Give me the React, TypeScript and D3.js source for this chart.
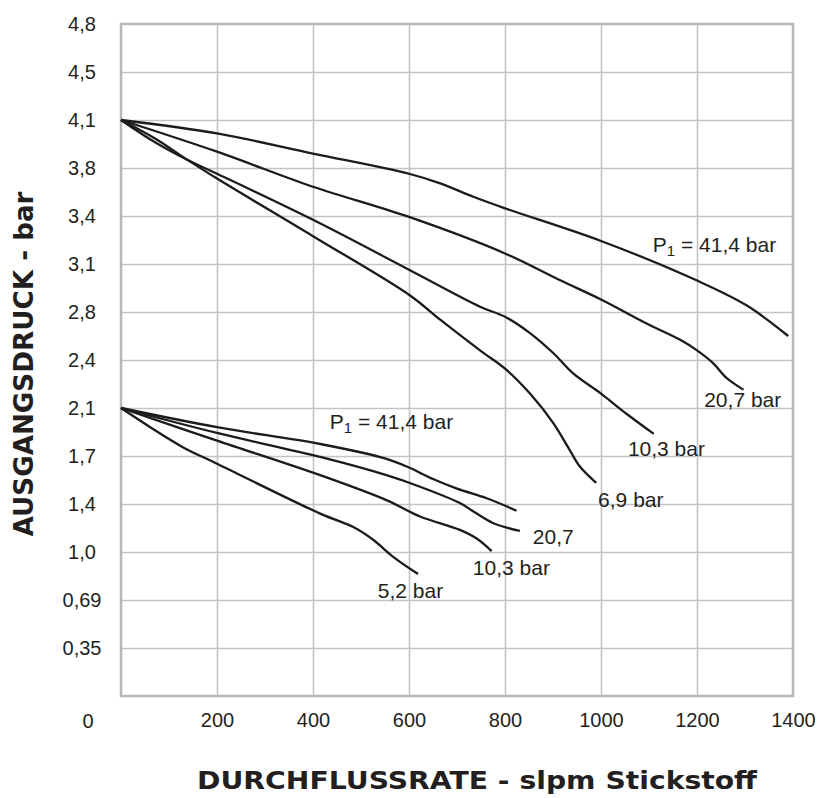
import React, { useEffect, useRef } from "react";
import * as d3 from "d3";

// flow in slpm, outlet pressure read on the (psi-linear) grid: 0..70 psi
const flowTicks = [200, 400, 600, 800, 1000, 1200, 1400];
const psiTicks = [5, 10, 15, 20, 25, 30, 35, 40, 45, 50, 55, 60, 65, 70];
const barLabels = ["0,35", "0,69", "1,0", "1,4", "1,7", "2,1", "2,4", "2,8", "3,1", "3,4", "3,8", "4,1", "4,5", "4,8"];

// upper set, set point 4,1 bar
const up414 = [[0, 60], [200, 58.6], [400, 56.5], [600, 54.4], [665, 53.4], [734, 52.0], [800, 50.8], [1000, 47.4], [1199, 43.3], [1303, 40.7], [1390, 37.5]];
const up207 = [[0, 60], [200, 56.7], [400, 53.05], [600, 49.9], [800, 46.1], [915, 43.3], [1000, 41.3], [1095, 38.8], [1165, 37.1], [1200, 36.0], [1234, 34.65], [1262, 33.1], [1297, 31.9]];
const up103 = [[0, 60], [70, 57.7], [140, 55.8], [200, 54.4], [400, 49.6], [600, 44.4], [748, 40.55], [800, 39.5], [852, 37.8], [901, 35.7], [942, 33.6], [1000, 31.5], [1053, 29.4], [1110, 27.3]];
const up69 = [[0, 60], [70, 58.1], [140, 55.8], [200, 53.9], [400, 47.9], [600, 41.8], [665, 39.2], [748, 36.0], [800, 34.1], [852, 31.5], [901, 28.4], [935, 25.6], [956, 23.9], [990, 22.2]];

// lower set, set point 2,1 bar
const lo414 = [[0, 30], [200, 28.0], [415, 26.25], [553, 24.7], [600, 23.8], [650, 22.6], [700, 21.6], [762, 20.6], [824, 19.3]];
const lo207 = [[0, 30], [200, 27.4], [415, 24.9], [553, 23.0], [623, 21.8], [706, 20.1], [735, 19.2], [776, 18.0], [831, 17.2]];
const lo103 = [[0, 30], [200, 26.6], [415, 23.0], [553, 20.4], [623, 18.7], [706, 17.3], [741, 16.4], [772, 15.1]];
const lo52 = [[0, 30], [126, 26.0], [200, 24.2], [415, 19.0], [484, 17.6], [526, 16.25], [567, 14.5], [619, 12.7]];

const curves = [up414, up207, up103, up69, lo414, lo207, lo103, lo52];

// curve labels: [flow, psi, main text, subscript, rest]
const labels: [number, number, string, string, string][] = [
  [1108, 46.25, "P", "1", " = 41,4 bar"],
  [1215, 30.1, "20,7 bar", "", ""],
  [1056, 25.0, "10,3 bar", "", ""],
  [994, 19.7, "6,9 bar", "", ""],
  [435, 27.8, "P", "1", " = 41,4 bar"],
  [858, 15.8, "20,7", "", ""],
  [733, 12.6, "10,3 bar", "", ""],
  [535, 10.2, "5,2 bar", "", ""],
];

export default function App() {
  const ref = useRef<SVGSVGElement>(null);

  useEffect(() => {
    const svg = d3.select(ref.current);
    svg.selectAll("*").remove();

    const left = 121, right = 793, top = 24, bottom = 696;
    const x = d3.scaleLinear().domain([0, 1400]).range([left, right]);
    const y = d3.scaleLinear().domain([0, 70]).range([bottom, top]);
    const font = "Liberation Sans, Arial, sans-serif";

    // grid
    svg
      .append("g")
      .attr("transform", `translate(0,${bottom})`)
      .call(d3.axisBottom(x).tickValues(flowTicks.slice(0, -1)).tickSize(-(bottom - top)).tickFormat(() => ""))
      .call((g) => g.select(".domain").remove())
      .call((g) => g.selectAll("line").attr("stroke", "#c4c4c4").attr("stroke-width", 1.6));
    svg
      .append("g")
      .attr("transform", `translate(${left},0)`)
      .call(d3.axisLeft(y).tickValues(psiTicks.slice(0, -1)).tickSize(-(right - left)).tickFormat(() => ""))
      .call((g) => g.select(".domain").remove())
      .call((g) => g.selectAll("line").attr("stroke", "#c4c4c4").attr("stroke-width", 1.6));

    svg
      .append("rect")
      .attr("x", left)
      .attr("y", top)
      .attr("width", right - left)
      .attr("height", bottom - top)
      .attr("fill", "none")
      .attr("stroke", "#b8b8b8")
      .attr("stroke-width", 2.5);

    // tick labels
    const xAxis = svg
      .append("g")
      .attr("transform", `translate(0,${bottom})`)
      .call(d3.axisBottom(x).tickValues(flowTicks).tickFormat(d3.format("d")).tickSize(0).tickPadding(17));
    xAxis.select(".domain").remove();
    xAxis.selectAll("text").attr("font-size", 20).attr("fill", "#231f20").attr("font-family", font);

    const yAxis = svg
      .append("g")
      .attr("transform", `translate(${left},0)`)
      .call(d3.axisLeft(y).tickValues(psiTicks).tickFormat((d, i) => barLabels[i]).tickSize(0));
    yAxis.select(".domain").remove();
    yAxis
      .selectAll("text")
      .attr("x", -39)
      .attr("dy", "0.3em")
      .attr("text-anchor", "middle")
      .attr("font-size", 20)
      .attr("fill", "#231f20")
      .attr("font-family", font);

    svg
      .append("text")
      .attr("x", x(0) - 33)
      .attr("y", bottom + 32)
      .attr("text-anchor", "middle")
      .attr("font-size", 20)
      .attr("fill", "#231f20")
      .attr("font-family", font)
      .text("0");

    // curves
    const line = d3
      .line<number[]>()
      .x((d) => x(d[0]))
      .y((d) => y(d[1]))
      .curve(d3.curveCatmullRom.alpha(0.5));

    svg
      .selectAll(".curve")
      .data(curves)
      .enter()
      .append("path")
      .attr("class", "curve")
      .attr("fill", "none")
      .attr("stroke", "#1c1a1b")
      .attr("stroke-width", 2.3)
      .attr("d", line);

    // curve labels
    labels.forEach(([f, p, a, sub, rest]) => {
      const t = svg
        .append("text")
        .attr("x", x(f))
        .attr("y", y(p))
        .attr("font-size", 21)
        .attr("fill", "#231f20")
        .attr("font-family", font);
      t.append("tspan").text(a);
      if (sub) {
        t.append("tspan").attr("font-size", 15).attr("dy", 4).text(sub);
        t.append("tspan").attr("dy", -4).text(rest);
      }
    });

    // axis titles
    svg
      .append("text")
      .attr("x", (left + right) / 2 + 20)
      .attr("y", 789)
      .attr("text-anchor", "middle")
      .attr("font-size", 25)
      .attr("font-weight", "bold")
      .attr("fill", "#231f20")
      .attr("font-family", "DejaVu Sans, sans-serif")
      .attr("textLength", 560)
      .attr("lengthAdjust", "spacingAndGlyphs")
      .text("DURCHFLUSSRATE - slpm Stickstoff");

    svg
      .append("text")
      .attr("transform", `translate(33,364) rotate(-90)`)
      .attr("text-anchor", "middle")
      .attr("font-size", 26)
      .attr("font-weight", "bold")
      .attr("fill", "#231f20")
      .attr("font-family", "DejaVu Sans, sans-serif")
      .attr("textLength", 345)
      .attr("lengthAdjust", "spacingAndGlyphs")
      .text("AUSGANGSDRUCK - bar");
  }, []);

  return (
    <svg
      ref={ref}
      width={819}
      height={798}
      style={{ position: "absolute", left: 0, top: 0, background: "#fff" }}
    />
  );
}
